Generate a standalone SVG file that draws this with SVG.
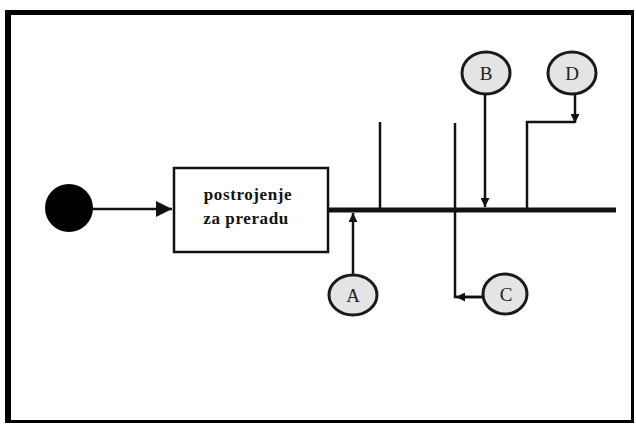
<svg xmlns="http://www.w3.org/2000/svg" width="636" height="424" viewBox="0 0 636 424">
<style>
.ln{stroke:#111;fill:none;stroke-width:2.5}
.cir{fill:#e4e4e4;stroke:#1a1a1a;stroke-width:3}
.lbl{font-family:"Liberation Serif",serif;font-size:19px;fill:#222;text-anchor:middle}
.box{font-family:"Liberation Serif",serif;font-size:17px;font-weight:bold;letter-spacing:0.6px;fill:#111;text-anchor:middle}
</style>
<defs>
<marker id="ah" viewBox="0 0 10 10" refX="10" refY="5" markerWidth="10" markerHeight="9" markerUnits="userSpaceOnUse" orient="auto">
<path d="M0,0 L10,5 L0,10 Z" fill="#111"/>
</marker>
<marker id="big" viewBox="0 0 10 10" refX="10" refY="5" markerWidth="22" markerHeight="16" markerUnits="userSpaceOnUse" orient="auto">
<path d="M0,0 L10,5 L0,10 Z" fill="#111"/>
</marker>
</defs>
<rect width="636" height="424" fill="#fff"/>
<g id="frame">
<path d="M8,13 H632.5 V421.5 H8 Z" fill="none" stroke="#000" stroke-width="3"/>
<rect x="5" y="10" width="6" height="413" fill="#000"/>
<rect x="5" y="10" width="629" height="5" fill="#000"/>
</g>
<g id="connectors">
<line class="ln" x1="92" y1="209" x2="172" y2="209" stroke-width="3" marker-end="url(#big)"/>
<line x1="328" y1="210" x2="616" y2="210" stroke="#111" stroke-width="5"/>
<line class="ln" x1="380" y1="122" x2="380" y2="210" stroke-width="3"/>
<polyline class="ln" points="455,123 455,297 483,297" stroke-width="2.5"/>
<line class="ln" x1="483" y1="297" x2="456" y2="297" marker-end="url(#ah)"/>
<line class="ln" x1="353" y1="275" x2="353" y2="213" marker-end="url(#ah)"/>
<line class="ln" x1="485" y1="93" x2="485" y2="207" marker-end="url(#ah)"/>
<polyline class="ln" points="575,122 527,122 527,210" stroke-width="3"/>
<line class="ln" x1="575" y1="93" x2="575" y2="123" marker-end="url(#ah)"/>
</g>
<g id="source">
<circle cx="69" cy="208" r="24" fill="#000"/>
</g>
<g id="plant">
<rect x="174" y="168" width="154" height="84" fill="#fff" stroke="#111" stroke-width="2.5"/>
<text class="box" x="248" y="200">postrojenje</text>
<text class="box" x="246" y="224">za preradu</text>
</g>
<g id="A">
<ellipse class="cir" cx="353" cy="295" rx="24" ry="20"/>
<text class="lbl" x="353" y="302">A</text>
</g>
<g id="B">
<ellipse class="cir" cx="486" cy="73" rx="24" ry="21"/>
<text class="lbl" x="486" y="80">B</text>
</g>
<g id="C">
<ellipse class="cir" cx="505" cy="294" rx="22" ry="20"/>
<text class="lbl" x="506" y="301">C</text>
</g>
<g id="D">
<ellipse class="cir" cx="572" cy="73" rx="24" ry="21"/>
<text class="lbl" x="572" y="80">D</text>
</g>
</svg>
